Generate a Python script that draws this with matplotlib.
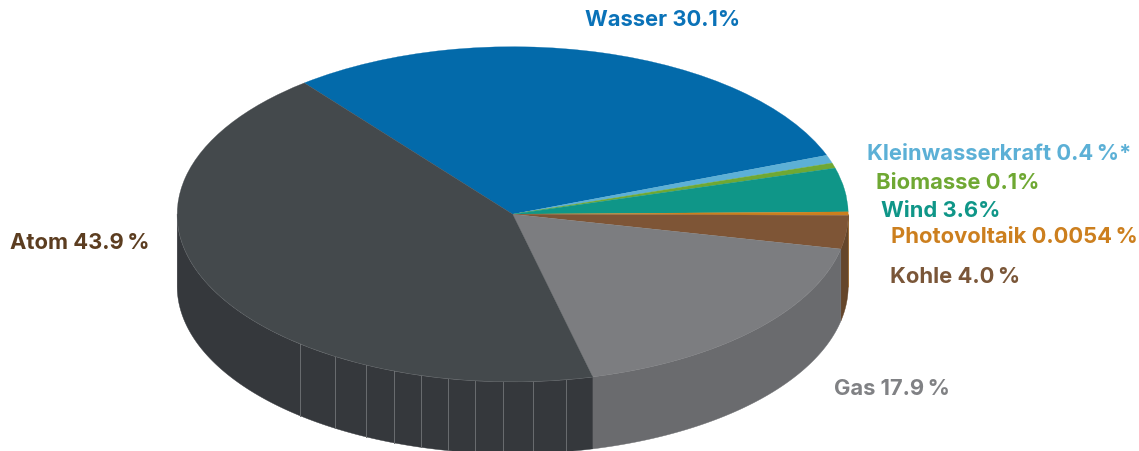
import numpy as np
import matplotlib
matplotlib.use("Agg")
import matplotlib.pyplot as plt
from matplotlib.patches import Wedge, Polygon

W, H = 1139, 452
labels = ["Wasser 30.1%", "Kleinwasserkraft 0.4\u2009%*", "Biomasse 0.1%", "Wind 3.6%",
          "Photovoltaik 0.0054\u2009%", "Kohle 4.0\u2009%", "Gas 17.9\u2009%", "Atom 43.9\u2009%"]
# Slice edges as drawn in the picture, degrees clockwise from Wasser's start
edges = [128.4, 20.6, 17.8, 16.0, 0.8, -0.4, -12.0, -76.2, -231.6]
top_colors = ["#036AAA", "#5CB0D6", "#6FA833", "#0F9688", "#CC7F1E", "#7E5536", "#7C7D80", "#44494C"]
side_colors = ["#036AAA", "#5CB0D6", "#6FA833", "#0F9688", "#CC7F1E", "#65462B", "#6A6B6E", "#35383C"]
text_colors = ["#0A72B8", "#5CB0D6", "#6FA833", "#0F9688", "#CC7F1E", "#7A5638", "#808184", "#5C3D20"]
label_x = [585, 867, 876, 881, 891, 890, 834, 10]
label_y = [26, 160, 189, 217, 243, 283, 395, 249]
facets = [-0.633, -0.530, -0.436, -0.353, -0.273, -0.193, -0.112, -0.029, 0.060, 0.159]

cx, cy, rx, ry, depth_px = 512.7, 215.2, 335.5, 167.5, 72
depth = depth_px / ry

fig = plt.figure(figsize=(W / 100, H / 100), dpi=100)
ax = fig.add_axes([0, 0, 1, 1])
ax.set_xlim(-cx / rx, (W - cx) / rx)
ax.set_ylim((cy - H) / ry, cy / ry)
ax.axis("off")

# Side wall (front half only)
for i in range(len(top_colors)):
    a0, a1 = edges[i + 1], edges[i]
    lo, hi = max(a0, -180), min(a1, 0)
    if hi <= lo:
        continue
    t = np.radians(np.linspace(lo, hi, 160))
    xs, ys = np.cos(t), np.sin(t)
    pts = np.r_[np.c_[xs, ys], np.c_[xs[::-1], ys[::-1] - depth]]
    ax.add_patch(Polygon(pts, closed=True, fc=side_colors[i], ec=side_colors[i], lw=0.3, zorder=1))

# Facet lines on the Atom wall
for fx in facets:
    fy = -np.sqrt(1 - fx ** 2)
    ax.plot([fx, fx], [fy, fy - depth], color="#6a6d70", lw=0.7, zorder=2)

# Thin highlight along the top rim
t = np.radians(np.linspace(-180, edges[7], 200))
ax.plot(np.cos(t), np.sin(t), color="#8b8e91", lw=0.5, zorder=2)

# Top face
for i, c in enumerate(top_colors):
    ax.add_patch(Wedge((0, 0), 1, edges[i + 1], edges[i], fc=c, ec=c, lw=0.2, zorder=3))

for s, x, y, c in zip(labels, label_x, label_y, text_colors):
    fig.text(x / W, 1 - y / H, s, color=c, fontsize=15.8, fontweight="bold",
             family=["Inter", "DejaVu Sans"], ha="left", va="baseline")

fig.savefig("out.png", dpi=100, facecolor="white")
